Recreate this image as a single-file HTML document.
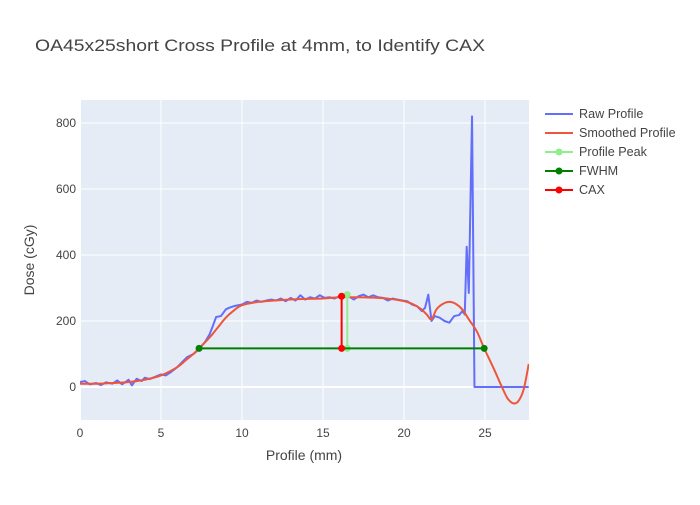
<!DOCTYPE html>
<html><head><meta charset="utf-8"><style>
body{margin:0;background:#fff;font-family:"Liberation Sans",sans-serif}
svg text{font-family:"Liberation Sans",sans-serif}
</style></head><body>
<svg id="chart" width="700" height="500">
<rect width="700" height="500" fill="#fff"/>
<text x="35" y="51" font-size="17" fill="#444" textLength="450" lengthAdjust="spacingAndGlyphs">OA45x25short Cross Profile at 4mm, to Identify CAX</text>
<rect x="80" y="100" width="449" height="320" fill="#e5ecf6"/>
<g id="grid"></g><g id="ticks"></g>
<g id="series"></g>
<text x="304" y="460" font-size="14" fill="#444" text-anchor="middle">Profile (mm)</text>
<text transform="translate(34,260) rotate(-90)" font-size="14" fill="#444" text-anchor="middle">Dose (cGy)</text>
<g id="legend"></g>
</svg>
<script>
const rawX=[0,0.3,0.6,1,1.3,1.6,2,2.3,2.6,3,3.2,3.5,3.8,4,4.3,4.6,5,5.3,5.6,6,6.3,6.6,7,7.2,7.4,7.7,8,8.2,8.4,8.7,9,9.2,9.5,9.8,10,10.3,10.6,10.9,11.2,11.5,11.8,12.1,12.4,12.7,13,13.3,13.6,13.9,14.2,14.5,14.8,15.1,15.4,15.7,16,16.3,16.6,16.9,17.2,17.5,17.8,18.1,18.4,18.7,19,19.3,19.6,19.9,20.2,20.5,20.8,21.1,21.3,21.5,21.7,21.9,22.2,22.5,22.8,23.1,23.4,23.6,23.75,23.87,24.0,24.2,24.35,25,26,27,27.7];
const rawY=[15,18,8,12,6,14,10,20,8,22,5,25,18,28,24,30,38,35,45,60,75,90,100,108,118,135,160,185,212,215,235,240,245,248,250,258,255,262,258,262,265,262,268,260,270,262,278,265,272,268,278,270,272,268,275,278,275,265,275,280,272,278,272,270,262,268,265,262,260,250,245,230,240,280,200,215,210,200,195,215,218,230,220,425,285,820,0,0,0,0,0];
const smX=[0,1,2,3,4,5,6,6.5,7,7.35,8,8.5,9,9.5,10,11,12,13,14,15,16,17,18,19,20,20.5,21,21.4,21.7,22,22.4,22.8,23.2,23.6,24,24.5,24.95,25.5,26,26.4,26.8,27.1,27.4,27.7];
const smY=[10,10,12,15,22,35,60,80,100,117,150,180,210,232,248,258,262,265,267,268,272,272,271,268,260,252,238,220,205,235,252,258,252,235,205,168,117,60,5,-35,-50,-40,-5,70];
const fwhmX=[7.35,24.95], fwhmY=[117,117];
const caxX=[16.15,16.15], caxY=[117,275];
const peakX=[16.5,16.5], peakY=[117,280];
const xTicks=[0,5,10,15,20,25], yTicks=[0,200,400,600,800];
const sx=v=>80+v*16.2, sy=v=>387-v*0.33;
const NS="http://www.w3.org/2000/svg";
function mk(tag,attrs,parent){const e=document.createElementNS(NS,tag);for(const k in attrs)e.setAttribute(k,attrs[k]);parent.appendChild(e);return e;}
const grid=document.getElementById('grid'),ticks=document.getElementById('ticks'),series=document.getElementById('series'),legend=document.getElementById('legend');
xTicks.forEach(t=>{
 const l=mk('line',{x1:sx(t),x2:sx(t),y1:100,y2:420,stroke:'#fff','stroke-width':t===0?2:1},grid);
 
 
 const tx=mk('text',{x:sx(t),y:437,'font-size':12,fill:'#444','text-anchor':'middle'},ticks);tx.textContent=t;
 
 
});
yTicks.forEach(t=>{
 const l=mk('line',{x1:80,x2:529,y1:sy(t),y2:sy(t),stroke:'#fff','stroke-width':t===0?2:1},grid);
 
 
 const tx=mk('text',{x:76,y:sy(t)+4,'font-size':12,fill:'#444','text-anchor':'end'},ticks);tx.textContent=t;
 
 
});
function smoothPath(p){
 let d='M'+p[0][0]+','+p[0][1];
 for(let i=0;i<p.length-1;i++){
  const p0=p[Math.max(0,i-1)],p1=p[i],p2=p[i+1],p3=p[Math.min(p.length-1,i+2)];
  const c1x=p1[0]+(p2[0]-p0[0])/6,c1y=p1[1]+(p2[1]-p0[1])/6;
  const c2x=p2[0]-(p3[0]-p1[0])/6,c2y=p2[1]-(p3[1]-p1[1])/6;
  d+=' C'+c1x+','+c1y+' '+c2x+','+c2y+' '+p2[0]+','+p2[1];
 }
 return d;
}
function line(xs,ys,color,name,markers,smooth){
 const g=mk('g',{},series);
 
 
 const p=xs.map((x,i)=>[sx(x),sy(ys[i])]);
 if(smooth) mk('path',{d:smoothPath(p),fill:'none',stroke:color,'stroke-width':2,'clip-path':'url(#clip)'},g);
 else mk('polyline',{points:p.map(q=>q.join(',')).join(' '),fill:'none',stroke:color,'stroke-width':2,'stroke-linejoin':'round','clip-path':'url(#clip)'},g);
 if(markers)xs.forEach((x,i)=>{const c=mk('circle',{cx:sx(x),cy:sy(ys[i]),r:3.5,fill:color},g);
  
  });
}
const defs=mk('defs',{},document.getElementById('chart'));
const cp=mk('clipPath',{id:'clip'},defs);mk('rect',{x:80,y:100,width:449,height:320},cp);
line(rawX,rawY,'#636efa','raw-profile-line',false,false);
line(smX,smY,'#ef553b','smoothed-profile-line',false,true);
line(peakX,peakY,'#90ee90','profile-peak-line',true,false);
line(fwhmX,fwhmY,'#008000','fwhm-line',true,false);
line(caxX,caxY,'#ff0000','cax-line',true,false);
const leg=[['Raw Profile','#636efa',false],['Smoothed Profile','#ef553b',false],['Profile Peak','#90ee90',true],['FWHM','#008000',true],['CAX','#ff0000',true]];
leg.forEach((d,i)=>{const y=114+i*19;
 const g=mk('g',{},legend);
 
 
 mk('line',{x1:545,x2:573,y1:y,y2:y,stroke:d[1],'stroke-width':2},g);
 if(d[2])mk('circle',{cx:559,cy:y,r:3.5,fill:d[1]},g);
 const t=mk('text',{x:579,y:y+4,'font-size':12.6,fill:'#444'},g);t.textContent=d[0];
});
</script>
</body></html>
